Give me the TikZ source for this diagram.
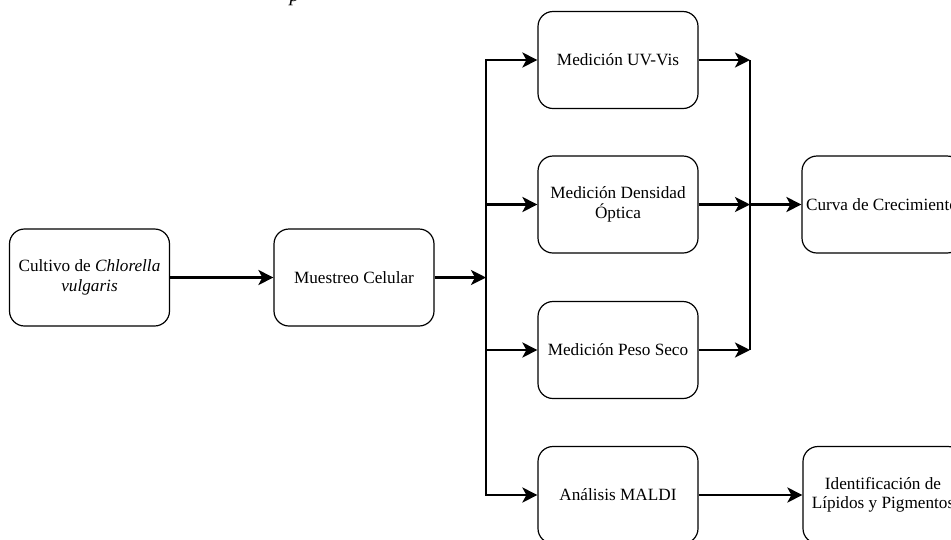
\documentclass[tikz,border=0pt]{standalone}
\usepackage{fontspec}
\setmainfont{Liberation Serif}
\usetikzlibrary{arrows.meta}
\tikzset{
  box/.style={draw=black, line width=1.2pt, rounded corners=15pt, minimum width=160pt, minimum height=97pt, inner sep=2pt, align=center, font=\fontsize{17.2}{19.5}\selectfont},
  conn/.style={draw=black, line width=2.8pt, -{Stealth[length=15pt,width=15pt,inset=4pt]}},
  plain/.style={draw=black, line width=2.8pt}
}
\begin{document}
\begin{tikzpicture}[x=1pt,y=-1pt]
\useasboundingbox (0,0) rectangle (951,539);
\clip (0,0) rectangle (951,539);
\node[anchor=base west, font=\fontsize{20}{24}\selectfont\itshape] (ptxt) at (286,1.5) {p};
\node[box] (cult) at (89.5,277.5) {Cultivo de \textit{Chlorella}\\\textit{vulgaris}};
\node[box] (mue) at (354,277.5) {Muestreo Celular};
\node[box] (uv) at (618,60) {Medición UV-Vis};
\node[box] (dens) at (618,204.5) {Medición Densidad\\Óptica};
\node[box] (peso) at (618,350) {Medición Peso Seco};
\node[box] (maldi) at (618,495) {Análisis MALDI};
\node[box] (curva) at (882,204.5) {Curva de Crecimiento};
\node[box] (ident) at (883,495) {Identificación de\\Lípidos y Pigmentos};
\coordinate (jl) at (486,277.5);
\coordinate (jrt) at (750,60);
\coordinate (jrd) at (750,204.5);
\coordinate (jrp) at (750,350);
\draw[conn] (cult) -- (mue);
\draw[conn] (mue) -- (jl);
\draw[conn] (jl) |- (uv.west);
\draw[conn] (jl) |- (dens.west);
\draw[conn] (jl) |- (peso.west);
\draw[conn] (jl) |- (maldi.west);
\draw[conn] (uv.east) -- (jrt);
\draw[conn] (dens.east) -- (jrd);
\draw[conn] (peso.east) -- (jrp);
\draw[plain] (jrt) -- (jrp);
\draw[conn] (jrd) -- (curva.west);
\draw[conn] (maldi) -- (ident);
\end{tikzpicture}
\end{document}
